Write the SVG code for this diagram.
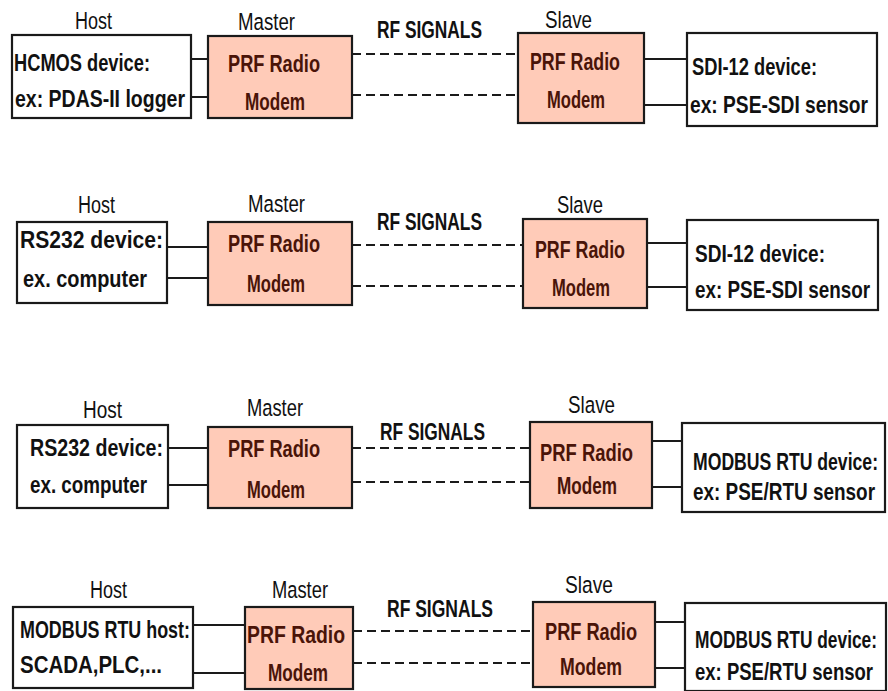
<svg xmlns="http://www.w3.org/2000/svg" width="888" height="691" viewBox="0 0 888 691">
<style>
text{font-family:"Liberation Sans",Arial,sans-serif;font-size:17px;font-weight:bold;fill:#111;}
.lbl{font-weight:normal;}
.m{fill:#4a1408;}
.box{fill:#fff;stroke:#1a1a1a;stroke-width:2.2;}
.mod{fill:#ffcbb8;stroke:#1a1a1a;stroke-width:2.2;}
.sol{stroke:#1a1a1a;stroke-width:2;fill:none;}
.dash{stroke:#1a1a1a;stroke-width:2;fill:none;stroke-dasharray:9 5;}
</style>
<rect width="888" height="691" fill="#fff"/>
<g id="connectors">
<path class="sol" d="M191 59H208M191 97H208M644 59H687M644 105H687"/>
<path class="dash" d="M352 54H518M352 95H518"/>
<path class="sol" d="M167 247H208M167 278H208M647 243H687M647 287H687"/>
<path class="dash" d="M352 245H523M352 286H523"/>
<path class="sol" d="M168 448H208M168 485H208M652 441H682M652 487H682"/>
<path class="dash" d="M352 448H530M352 482H530"/>
<path class="sol" d="M193 625H245M193 673H245M655 622H685M655 668H685"/>
<path class="dash" d="M353 631H533M353 663H533"/>
</g>
<g id="labels">
<text class="lbl" transform="translate(75 29) scale(1 1.42)" textLength="37" lengthAdjust="spacingAndGlyphs">Host</text>
<text class="lbl" transform="translate(238 30) scale(1 1.42)" textLength="57" lengthAdjust="spacingAndGlyphs">Master</text>
<text class="lbl" transform="translate(545 28) scale(1 1.42)" textLength="47" lengthAdjust="spacingAndGlyphs">Slave</text>
<text transform="translate(377 38) scale(1 1.45)" textLength="105" lengthAdjust="spacingAndGlyphs">RF SIGNALS</text>
<text class="lbl" transform="translate(78 213) scale(1 1.42)" textLength="37" lengthAdjust="spacingAndGlyphs">Host</text>
<text class="lbl" transform="translate(248 212) scale(1 1.42)" textLength="57" lengthAdjust="spacingAndGlyphs">Master</text>
<text class="lbl" transform="translate(557 213) scale(1 1.42)" textLength="46" lengthAdjust="spacingAndGlyphs">Slave</text>
<text transform="translate(377 230) scale(1 1.45)" textLength="105" lengthAdjust="spacingAndGlyphs">RF SIGNALS</text>
<text class="lbl" transform="translate(83 418) scale(1 1.42)" textLength="39" lengthAdjust="spacingAndGlyphs">Host</text>
<text class="lbl" transform="translate(247 416) scale(1 1.42)" textLength="56" lengthAdjust="spacingAndGlyphs">Master</text>
<text class="lbl" transform="translate(568 413) scale(1 1.42)" textLength="47" lengthAdjust="spacingAndGlyphs">Slave</text>
<text transform="translate(380 440) scale(1 1.45)" textLength="105" lengthAdjust="spacingAndGlyphs">RF SIGNALS</text>
<text class="lbl" transform="translate(90 598) scale(1 1.42)" textLength="37" lengthAdjust="spacingAndGlyphs">Host</text>
<text class="lbl" transform="translate(272 598) scale(1 1.42)" textLength="56" lengthAdjust="spacingAndGlyphs">Master</text>
<text class="lbl" transform="translate(565 593) scale(1 1.42)" textLength="48" lengthAdjust="spacingAndGlyphs">Slave</text>
<text transform="translate(387 617) scale(1 1.45)" textLength="106" lengthAdjust="spacingAndGlyphs">RF SIGNALS</text>
</g>
<g id="host1">
<rect class="box" x="12" y="35" width="179" height="83"/>
<text transform="translate(14 71) scale(1 1.45)" textLength="136" lengthAdjust="spacingAndGlyphs">HCMOS device:</text>
<text transform="translate(15 107) scale(1 1.45)" textLength="170" lengthAdjust="spacingAndGlyphs">ex: PDAS-II logger</text>
</g>
<g id="master1">
<rect class="mod" x="208" y="36" width="144" height="82"/>
<text class="m" transform="translate(228 72) scale(1 1.45)" textLength="92" lengthAdjust="spacingAndGlyphs">PRF Radio</text>
<text class="m" transform="translate(245 110) scale(1 1.45)" textLength="60" lengthAdjust="spacingAndGlyphs">Modem</text>
</g>
<g id="slave1">
<rect class="mod" x="518" y="33" width="126" height="90"/>
<text class="m" transform="translate(530 70) scale(1 1.45)" textLength="90" lengthAdjust="spacingAndGlyphs">PRF Radio</text>
<text class="m" transform="translate(547 108) scale(1 1.45)" textLength="58" lengthAdjust="spacingAndGlyphs">Modem</text>
</g>
<g id="device1">
<rect class="box" x="687" y="33" width="190" height="93"/>
<text transform="translate(692 75) scale(1 1.45)" textLength="125" lengthAdjust="spacingAndGlyphs">SDI-12 device:</text>
<text transform="translate(690 113) scale(1 1.45)" textLength="178" lengthAdjust="spacingAndGlyphs">ex: PSE-SDI sensor</text>
</g>
<g id="host2">
<rect class="box" x="17" y="222" width="150" height="81"/>
<text transform="translate(20 248) scale(1 1.45)" textLength="143" lengthAdjust="spacingAndGlyphs">RS232 device:</text>
<text transform="translate(23 287) scale(1 1.45)" textLength="124" lengthAdjust="spacingAndGlyphs">ex. computer</text>
</g>
<g id="master2">
<rect class="mod" x="208" y="222" width="144" height="83"/>
<text class="m" transform="translate(228 252) scale(1 1.45)" textLength="92" lengthAdjust="spacingAndGlyphs">PRF Radio</text>
<text class="m" transform="translate(247 292) scale(1 1.45)" textLength="58" lengthAdjust="spacingAndGlyphs">Modem</text>
</g>
<g id="slave2">
<rect class="mod" x="523" y="219" width="124" height="89"/>
<text class="m" transform="translate(535 258) scale(1 1.45)" textLength="90" lengthAdjust="spacingAndGlyphs">PRF Radio</text>
<text class="m" transform="translate(552 296) scale(1 1.45)" textLength="58" lengthAdjust="spacingAndGlyphs">Modem</text>
</g>
<g id="device2">
<rect class="box" x="687" y="220" width="191" height="90"/>
<text transform="translate(695 262) scale(1 1.45)" textLength="130" lengthAdjust="spacingAndGlyphs">SDI-12 device:</text>
<text transform="translate(695 298) scale(1 1.45)" textLength="175" lengthAdjust="spacingAndGlyphs">ex: PSE-SDI sensor</text>
</g>
<g id="host3">
<rect class="box" x="17" y="425" width="151" height="83"/>
<text transform="translate(30 456) scale(1 1.45)" textLength="133" lengthAdjust="spacingAndGlyphs">RS232 device:</text>
<text transform="translate(30 493) scale(1 1.45)" textLength="117" lengthAdjust="spacingAndGlyphs">ex. computer</text>
</g>
<g id="master3">
<rect class="mod" x="208" y="427" width="144" height="81"/>
<text class="m" transform="translate(228 457) scale(1 1.45)" textLength="92" lengthAdjust="spacingAndGlyphs">PRF Radio</text>
<text class="m" transform="translate(247 498) scale(1 1.45)" textLength="58" lengthAdjust="spacingAndGlyphs">Modem</text>
</g>
<g id="slave3">
<rect class="mod" x="530" y="422" width="122" height="86"/>
<text class="m" transform="translate(540 461) scale(1 1.45)" textLength="93" lengthAdjust="spacingAndGlyphs">PRF Radio</text>
<text class="m" transform="translate(557 494) scale(1 1.45)" textLength="60" lengthAdjust="spacingAndGlyphs">Modem</text>
</g>
<g id="device3">
<rect class="box" x="682" y="423" width="203" height="89"/>
<text transform="translate(693 470) scale(1 1.45)" textLength="185" lengthAdjust="spacingAndGlyphs">MODBUS RTU device:</text>
<text transform="translate(693 500) scale(1 1.45)" textLength="182" lengthAdjust="spacingAndGlyphs">ex: PSE/RTU sensor</text>
</g>
<g id="host4">
<rect class="box" x="13" y="607" width="180" height="81"/>
<text transform="translate(20 638) scale(1 1.45)" textLength="170" lengthAdjust="spacingAndGlyphs">MODBUS RTU host:</text>
<text transform="translate(20 673) scale(1 1.45)" textLength="142" lengthAdjust="spacingAndGlyphs">SCADA,PLC,...</text>
</g>
<g id="master4">
<rect class="mod" x="245" y="607" width="108" height="82"/>
<text class="m" transform="translate(247 643) scale(1 1.45)" textLength="98" lengthAdjust="spacingAndGlyphs">PRF Radio</text>
<text class="m" transform="translate(268 681) scale(1 1.45)" textLength="60" lengthAdjust="spacingAndGlyphs">Modem</text>
</g>
<g id="slave4">
<rect class="mod" x="533" y="602" width="122" height="85"/>
<text class="m" transform="translate(545 640) scale(1 1.45)" textLength="92" lengthAdjust="spacingAndGlyphs">PRF Radio</text>
<text class="m" transform="translate(560 675) scale(1 1.45)" textLength="62" lengthAdjust="spacingAndGlyphs">Modem</text>
</g>
<g id="device4">
<rect class="box" x="685" y="603" width="201" height="88"/>
<text transform="translate(695 648) scale(1 1.45)" textLength="182" lengthAdjust="spacingAndGlyphs">MODBUS RTU device:</text>
<text transform="translate(695 680) scale(1 1.45)" textLength="178" lengthAdjust="spacingAndGlyphs">ex: PSE/RTU sensor</text>
</g>
</svg>
